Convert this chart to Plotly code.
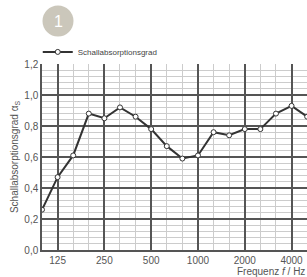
import plotly.graph_objects as go

# Data
bands = ["100", "125", "160", "200", "250", "315", "400", "500", "630", "800",
         "1000", "1250", "1600", "2000", "2500", "3150", "4000", "5000"]
alpha = [0.26, 0.47, 0.61, 0.88, 0.85, 0.92, 0.86, 0.78, 0.67, 0.59,
         0.61, 0.76, 0.74, 0.78, 0.78, 0.88, 0.93, 0.86]
tick_labels = ["125", "250", "500", "1000", "2000", "4000"]
series_name = "Schallabsorptionsgrad"

x_idx = list(range(len(bands)))
tick_idx = [bands.index(t) for t in tick_labels]

FONT = "Liberation Sans, Arial, sans-serif"
DARK = "#555555"
LIGHT = "#cccccc"
TXT = "#555555"

fig = go.Figure()
fig.add_trace(go.Scatter(
    x=x_idx, y=alpha, mode="lines+markers", name=series_name,
    line=dict(color="#333333", width=2),
    marker=dict(symbol="circle", size=5, color="white",
                line=dict(color="#333333", width=1)),
    cliponaxis=True,
))

fig.update_layout(
    width=307, height=277,
    margin=dict(l=42, r=0, t=64, b=27),
    paper_bgcolor="white", plot_bgcolor="white",
    font=dict(family=FONT, color=TXT, size=10),
    showlegend=True,
    legend=dict(x=-0.016, xanchor="left", y=1.065, yanchor="middle",
                font=dict(size=8, color="#444444"),
                bgcolor="rgba(0,0,0,0)", itemwidth=30,
                tracegroupgap=0),
    xaxis=dict(
        range=[0, 16.99], tickmode="array", tickvals=tick_idx, ticktext=tick_labels,
        showgrid=True, gridcolor=DARK, gridwidth=2,
        minor=dict(dtick=1, tick0=0, showgrid=True, gridcolor=LIGHT, gridwidth=1),
        showline=True, linecolor=DARK, linewidth=1.5,
        zeroline=False, ticks="", tickfont=dict(size=10, color=TXT),
        fixedrange=True,
    ),
    yaxis=dict(
        range=[0, 1.2], dtick=0.2, tick0=0, tickformat=".1f",
        showgrid=True, gridcolor=DARK, gridwidth=2,
        minor=dict(dtick=0.04, tick0=0, showgrid=True, gridcolor=LIGHT, gridwidth=1),
        showline=True, linecolor=DARK, linewidth=1.5,
        zeroline=False, ticks="", tickfont=dict(size=10, color=TXT),
        title=dict(text="Schallabsorptionsgrad α<sub>S</sub>",
                   font=dict(size=10, color=TXT), standoff=4),
        fixedrange=True,
    ),
    separators=",.",
)

# Badge
fig.add_shape(type="circle", xref="paper", yref="paper",
              x0=(42.5 - 42) / 265, x1=(73.5 - 42) / 265,
              y0=(250 - 36.5) / 186, y1=(250 - 5.5) / 186,
              fillcolor="#cbc7bb", line=dict(width=0))
fig.add_annotation(text="1", xref="paper", yref="paper",
                   x=(58 - 42) / 265, y=(250 - 21) / 186,
                   showarrow=False, font=dict(size=16, color="white"),
                   xanchor="center", yanchor="middle")

# Axis title on x
fig.add_annotation(text="Frequenz <i>f</i> / Hz", xref="paper", yref="paper",
                   x=1, y=(250 - 271.5) / 186, xanchor="right", yanchor="middle",
                   showarrow=False, font=dict(size=10, color=TXT))

fig.write_html("out.html", config={"displayModeBar": False},
               post_script="document.body.style.margin='0';document.body.style.overflow='hidden';")
